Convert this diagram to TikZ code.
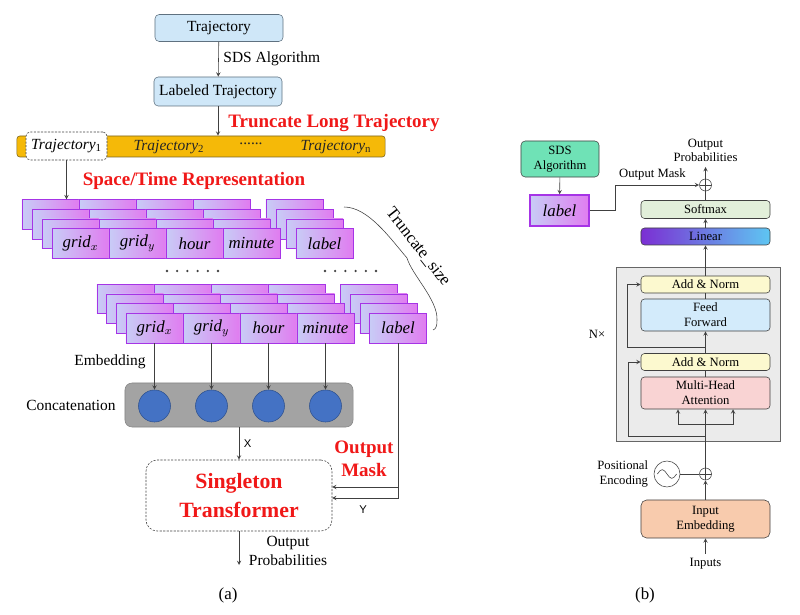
\documentclass[tikz,border=0pt]{standalone}
\usepackage{fontspec}
\setmainfont{Liberation Serif}
\setsansfont{Liberation Sans}
\usepackage{tikz}
\usepackage{color}

\definecolor{boxblue}{HTML}{CFE7F8}
\definecolor{boxline}{HTML}{5F7180}
\definecolor{bargold}{HTML}{F5B908}
\definecolor{barline}{HTML}{7A6420}
\definecolor{cellleft}{HTML}{C8CCF6}
\definecolor{cellright}{HTML}{E07CF0}
\definecolor{cellline}{HTML}{A634E6}
\definecolor{embblue}{HTML}{4472C4}
\definecolor{embline}{HTML}{2F528F}
\definecolor{concatgray}{HTML}{A3A3A3}
\definecolor{concatline}{HTML}{858585}
\definecolor{sdsgreen}{HTML}{6FE2B6}
\definecolor{softgreen}{HTML}{E2EFDA}
\definecolor{linpurple}{HTML}{7B2FD3}
\definecolor{linblue}{HTML}{5EC6F2}
\definecolor{encgray}{HTML}{EBEBEB}
\definecolor{normyellow}{HTML}{FCF9CF}
\definecolor{ffblue}{HTML}{D3EBFB}
\definecolor{mhapink}{HTML}{F9D3D3}
\definecolor{inpeach}{HTML}{F8CBAD}
\definecolor{darkline}{HTML}{404040}
\definecolor{maskred}{HTML}{F01818}

\begin{document}
\begin{tikzpicture}[x=0.025cm, y=-0.025cm]
  \useasboundingbox (0,0) rectangle (800,615);

  \tikzset{
    blue box/.style={draw=boxline, fill=boxblue, rounded corners=3pt, minimum width=3.2cm, font=\fontsize{11}{13}\selectfont},
    feature cell/.style={draw=cellline, left color=cellleft, right color=cellright, minimum width=1.425cm, minimum height=0.74cm, inner sep=0pt, font=\fontsize{12}{14}\selectfont\itshape},
    thin arc/.style={->, darkline, thin, >=stealth, text=black},
    plain arc/.style={-, darkline, thin},
    red title/.style={text=maskred, font=\fontsize{13.5}{16}\selectfont\bfseries, align=center},
    side text/.style={font=\fontsize{11}{13}\selectfont, align=center},
    small text/.style={font=\fontsize{9}{10.5}\selectfont, align=center},
    layer box/.style={draw=darkline, rounded corners=2.5pt, minimum width=3.225cm, inner sep=0pt, font=\fontsize{9}{10.5}\selectfont, align=center},
    oplus/.style={circle, draw=darkline, thin, fill=white, minimum size=0.3cm, inner sep=0pt,
      path picture={\draw[darkline] (path picture bounding box.north) -- (path picture bounding box.south)
        (path picture bounding box.west) -- (path picture bounding box.east);}},
  }

  % (a) trajectory preprocessing
  \node[blue box, minimum height=0.675cm] (traj) at (219,28) {Trajectory};
  \node[blue box, minimum height=0.725cm] (labtraj) at (218,91.5) {Labeled Trajectory};
  \draw[thin arc] (traj) -- node[right, side text] {SDS Algorithm} (labtraj);

  \node[draw=barline, fill=bargold, rounded corners=2pt, minimum width=9.2cm, minimum height=0.525cm] (bar) at (201,146.5) {};
  \node[draw=darkline, dash pattern=on 1.5pt off 1pt, fill=white, rounded corners=3pt, minimum width=2.025cm, minimum height=0.7cm, inner sep=0pt, font=\fontsize{11}{13}\selectfont] (traj1) at (66.5,146) {\textit{Trajectory}\textsubscript{1}};
  \node[font=\fontsize{11}{13}\selectfont, text=black!85] (traj2) at (169,147) {\textit{Trajectory}\textsubscript{2}};
  \node[font=\fontsize{11}{13}\selectfont, text=black!85] (trajdots) at (251,144) {......};
  \node[font=\fontsize{11}{13}\selectfont, text=black!85] (trajn) at (336,147) {\textit{Trajectory}\textsubscript{\upshape n}};
  \draw[thin arc] (labtraj) -- (labtraj |- bar.north);
  \node[red title] (trunc) at (334,123) {Truncate Long Trajectory};
  \node[red title] (strep) at (194,181) {Space/Time Representation};

  % first time step stack
  \foreach \k in {3,2,1}{
    \foreach \i in {0,...,3}
      \node[feature cell] (tc\k\i) at ({80.5+57*\i-10*\k},{243.5-9.7*\k}) {};
    \node[feature cell] (tl\k) at ({324.5-10*\k},{243.5-9.7*\k}) {};
  }
  \node[feature cell] (tgx) at (80.5,243.5) {grid$_x$};
  \node[feature cell] (tgy) at (137.5,243.5) {grid$_y$};
  \node[feature cell] (thour) at (194.5,243.5) {hour};
  \node[feature cell] (tmin) at (251.5,243.5) {minute};
  \node[feature cell] (tlab) at (324.5,243.5) {label};
  \draw[thin arc] (traj1.south) -- (traj1.south |- tc30.north);

  \foreach \i in {0,...,5}{
    \fill[darkline] ({167+10.2*\i},271) circle (0.9pt);
    \fill[darkline] ({325+10.2*\i},271) circle (0.9pt);
  }

  % last time step stack
  \foreach \k in {3,2,1}{
    \foreach \i in {0,...,3}
      \node[feature cell] (bc\k\i) at ({154.5+57*\i-9.7*\k},{328-9.7*\k}) {};
    \node[feature cell] (bl\k) at ({398-9.7*\k},{328-9.7*\k}) {};
  }
  \node[feature cell] (bgx) at (154.5,328) {grid$_x$};
  \node[feature cell] (bgy) at (211.5,328) {grid$_y$};
  \node[feature cell] (bhour) at (268.5,328) {hour};
  \node[feature cell] (bmin) at (325.5,328) {minute};
  \node[feature cell] (blab) at (398,328) {label};

  % truncate size brace
  \draw[darkline] (344,207) .. controls (368,207) and (390,238) .. (407,258)
    .. controls (412,275) and (438,300) .. (437,320) .. controls (437,326) and (436,329) .. (433,330);
  \node[rotate=-52, font=\fontsize{12}{14}\selectfont] (tsize) at (418,247) {Truncate\_size};

  % embedding and concatenation
  \node[draw=concatline, fill=concatgray, rounded corners=5pt, minimum width=5.7cm, minimum height=1.1cm] (concat) at (239,405) {};
  \foreach \c/\x in {bgx/154.5, bgy/211.5, bhour/268.5, bmin/325.5}{
    \node[circle, draw=embline, fill=embblue, minimum size=0.8cm] (e\c) at (\x,406) {};
    \draw[thin arc] (\c) -- (e\c);
  }
  \node[side text] (embtxt) at (110,362) {Embedding};
  \node[side text] (cattxt) at (71,405) {Concatenation};

  \node[draw=darkline, dash pattern=on 1.5pt off 1pt, rounded corners=8pt, minimum width=4.65cm, minimum height=1.775cm, text=maskred, font=\fontsize{15.5}{20}\selectfont\bfseries, align=center] (st) at (239,495.5) {Singleton\\Transformer};
  \draw[thin arc] (concat) -- node[right, font=\sffamily\fontsize{8}{9}\selectfont] {X} (st);

  \coordinate (ym1) at (332,487);
  \coordinate (ym2) at (332,498);
  \draw[thin arc] (blab) |- (ym2);
  \draw[thin arc] (blab |- ym1) -- (ym1);
  \node[red title] (omask) at (364,459) {Output\\Mask};
  \node[font=\sffamily\fontsize{8}{9}\selectfont] (ylab) at (363,510) {Y};

  \coordinate (aout) at (239,565);
  \draw[thin arc] (st) -- (aout);
  \node[side text] (aprob) at (288,551) {Output\\Probabilities};
  \node[font=\fontsize{12}{14}\selectfont] (capa) at (228,595) {(a)};

  % (b) singleton transformer
  \node[draw=darkline, fill=sdsgreen, rounded corners=3pt, minimum width=1.95cm, minimum height=0.9cm, small text] (sds) at (560,159) {SDS\\Algorithm};
  \node[feature cell, line width=1pt, minimum width=1.475cm, minimum height=0.775cm] (lab) at (559.5,210.5) {label};
  \draw[thin arc] (sds) -- (lab);

  \node[oplus] (plus1) at (705.5,185) {};
  \draw[thin arc] (lab.east) -- ++(26,0) |- node[pos=0.72, above, small text] {Output Mask} (plus1);
  \coordinate (bout) at (705.5,167);
  \draw[thin arc] (plus1) -- (bout);
  \node[small text, anchor=south] (bprob) at (bout) {Output\\Probabilities};

  \node[layer box, fill=softgreen, minimum height=0.45cm] (soft) at (705.5,209.5) {Softmax};
  \node[layer box, left color=linpurple, right color=linblue, minimum height=0.425cm] (lin) at (705.5,236.5) {Linear};
  \node[draw=darkline!80, fill=encgray, minimum width=4.1cm, minimum height=4.35cm] (enc) at (698,354) {};
  \node[layer box, fill=normyellow, minimum height=0.425cm] (an2) at (705.5,284.5) {Add \& Norm};
  \node[layer box, fill=ffblue, minimum height=0.8cm] (ff) at (705.5,315) {Feed\\Forward};
  \node[layer box, fill=normyellow, minimum height=0.425cm] (an1) at (705.5,362) {Add \& Norm};
  \node[layer box, fill=mhapink, minimum height=0.8cm] (mha) at (705.5,393) {Multi-Head\\Attention};
  \node[small text] (nx) at (597,334) {N×};

  \draw[plain arc] (soft) -- (plus1);
  \draw[thin arc] (lin) -- (soft);
  \draw[thin arc] (an2) -- (lin);
  \draw[plain arc] (ff) -- (an2);
  \draw[thin arc] (an1) -- (ff);
  \draw[plain arc] (mha) -- (an1);

  \coordinate (res2) at (705.5,347);
  \coordinate (res1) at (705.5,436);
  \coordinate (qkv) at (705.5,424);
  \draw[thin arc] (res2) -- ++(-78.5,0) |- (an2);
  \draw[thin arc] (res1) -- ++(-77.5,0) |- (an1);
  \draw[thin arc] (qkv) -| ([xshift=-0.6875cm]mha.south);
  \draw[thin arc] (qkv) -| ([xshift=0.6875cm]mha.south);

  \node[oplus] (plus2) at (705.5,474) {};
  \draw[thin arc] (plus2) -- (mha);
  \node[circle, draw=darkline, fill=white, minimum size=0.65cm,
    path picture={\draw[darkline] ([xshift=-0.24cm]path picture bounding box.center) sin ++(0.12cm,0.11cm) cos ++(0.12cm,-0.11cm) sin ++(0.12cm,-0.11cm) cos ++(0.12cm,0.11cm);}] (pe) at (667,474) {};
  \draw[plain arc] (pe) -- (plus2);
  \node[small text, anchor=east, align=right] (petxt) at (653,474) {Positional\\Encoding};

  \node[layer box, fill=inpeach, minimum height=0.95cm, rounded corners=4pt] (emb) at (705.5,519) {Input\\Embedding};
  \draw[thin arc] (emb) -- (plus2);
  \node[small text] (inp) at (705.5,564) {Inputs};
  \draw[thin arc] (inp) -- (emb);
  \node[font=\fontsize{12}{14}\selectfont] (capb) at (645,595) {(b)};
\end{tikzpicture}
\end{document}
